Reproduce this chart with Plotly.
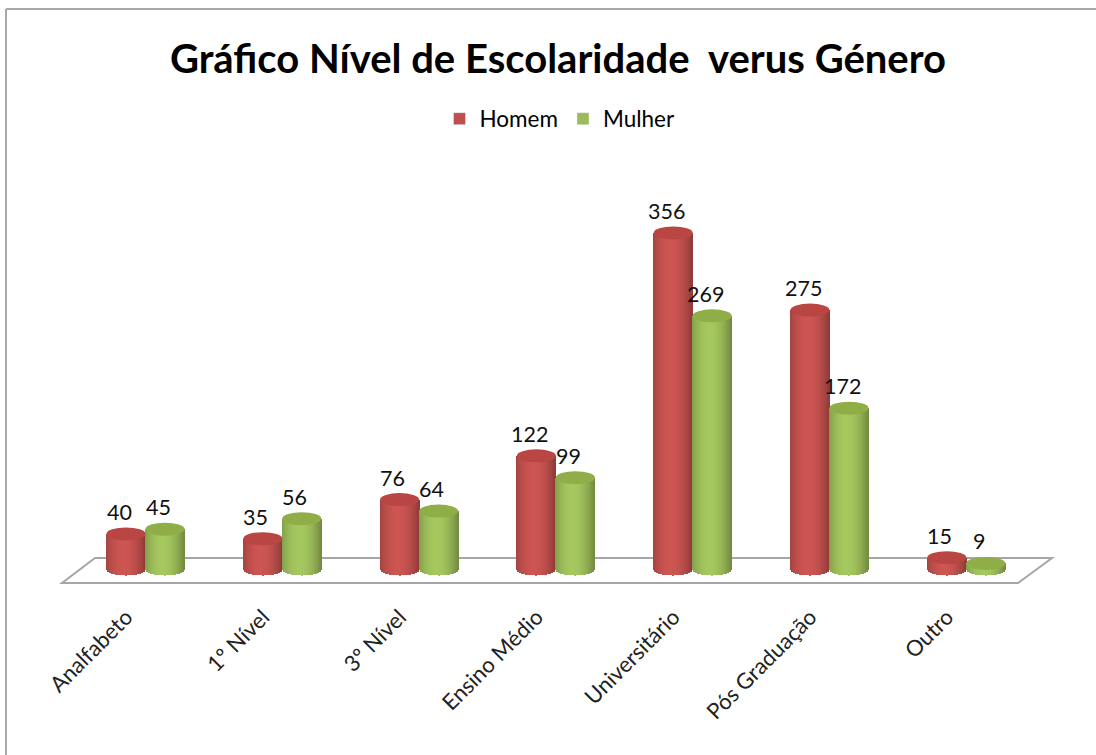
import math
import plotly.graph_objects as go

categories = ["Analfabeto", "1º Nível", "3º Nível", "Ensino Médio", "Universitário", "Pós Graduação", "Outro"]
homem = [40, 35, 76, 122, 356, 275, 15]
mulher = [45, 56, 64, 99, 269, 172, 9]

W, H = 1096, 755
AXIS_PX = 590
ZERO_PX = 572
PX_PER_UNIT = 0.9525
GROUP_PX = 136.8
FIRST_PX = 145.5
BAR_PX = 39
STRIPS = 39
ELL_PX = 6.5

def xv(px):
    return (px - FIRST_PX) / GROUP_PX

def yv(px):
    return (ZERO_PX - px) / PX_PER_UNIT

def shade(rgb, t):
    k = 1.07 - 0.27 * ((t + 0.1) ** 2)
    return "rgb(%d,%d,%d)" % tuple(min(255, int(c * k)) for c in rgb)

RED = (192, 80, 77)
GREEN = (155, 187, 89)
CAP_RED = "#b94643"
CAP_GREEN = "#8fae47"

fig = go.Figure()
shapes = []
annotations = []

# floor
fl = [(62, 583), (1018, 583), (1052, 558), (95, 558)]
path = "M " + " L ".join(f"{xv(a)},{yv(b)}" for a, b in fl) + " Z"
shapes.append(dict(type="path", path=path, xref="x", yref="y", layer="below",
                   line=dict(color="#a6a6a6", width=2), fillcolor="white"))
# outer frame: only the top and left edges show in the picture
shapes.append(dict(type="line", xref="paper", yref="paper", layer="below",
                   x0=6 / W, x1=6 / W, y0=1 - H / AXIS_PX, y1=1 - 9 / AXIS_PX,
                   line=dict(color="#a8a8a8", width=2)))
shapes.append(dict(type="line", xref="paper", yref="paper", layer="below",
                   x0=6 / W, x1=1, y0=1 - 9 / AXIS_PX, y1=1 - 9 / AXIS_PX,
                   line=dict(color="#a8a8a8", width=2)))

bar_w = BAR_PX / GROUP_PX
for name, vals, rgb, cap, off in [("Homem", homem, RED, CAP_RED, -0.5), ("Mulher", mulher, GREEN, CAP_GREEN, 0.5)]:
    xs, ys, bases, cols = [], [], [], []
    for i, v in enumerate(vals):
        cx = i + off * bar_w
        for s in range(STRIPS):
            t = -1 + (2 * s + 1) / STRIPS
            drop = ELL_PX * math.sqrt(max(0, 1 - t * t)) / PX_PER_UNIT
            base = 3 / PX_PER_UNIT - drop
            xs.append(cx + t * bar_w / 2)
            bases.append(base)
            ys.append(v - base)
            cols.append(shade(rgb, t))
        hgt = ELL_PX / PX_PER_UNIT
        shapes.append(dict(type="circle", xref="x", yref="y", layer="above",
                           x0=cx - bar_w / 2, x1=cx + bar_w / 2, y0=v - hgt, y1=v + hgt,
                           line=dict(width=0), fillcolor=cap))
        annotations.append(dict(x=cx, y=v, text=str(v), showarrow=False, xref="x", yref="y",
                                xshift=-7, yshift=22, yanchor="middle", xanchor="center",
                                font=dict(family="Lato", size=21.5, color="#111111")))
    fig.add_trace(go.Bar(x=xs, y=ys, base=bases, width=bar_w / STRIPS * 1.15,
                         marker=dict(color=cols, line=dict(width=0)), showlegend=False, hoverinfo="skip"))
    fig.add_trace(go.Bar(x=[None], y=[None], name=name, marker=dict(color="rgb(%d,%d,%d)" % rgb)))

fig.update_layout(
    width=W, height=H, autosize=False,
    margin=dict(l=0, r=0, t=0, b=H - AXIS_PX),
    paper_bgcolor="white", plot_bgcolor="rgba(0,0,0,0)",
    barmode="overlay", bargap=0,
    font=dict(family="Lato", color="black", size=20),
    title=dict(text="<b>Gráfico Nível de Escolaridade  verus Género</b>",
               x=558 / W, xanchor="center", y=1 - 59 / H, yanchor="middle",
               font=dict(family="Lato", size=40, color="black")),
    legend=dict(orientation="h", x=560 / W, xanchor="center", y=1 - 119 / AXIS_PX, yanchor="middle",
                font=dict(family="Lato", size=22.5), bgcolor="rgba(0,0,0,0)"),
    xaxis=dict(range=[xv(0), xv(W)], tickmode="array", tickvals=[i - 0.14 for i in range(len(categories))],
               ticktext=categories, tickangle=-45, showgrid=False, zeroline=False, showline=False,
               ticks="", ticklabelstandoff=9, tickfont=dict(family="Lato", size=22, color="#222222")),
    yaxis=dict(range=[yv(AXIS_PX), yv(0)], visible=False),
    shapes=shapes, annotations=annotations,
)

fig.write_html("out.html", post_script="document.body.style.margin='0';document.body.style.overflow='hidden';",
               config={"displayModeBar": False})
